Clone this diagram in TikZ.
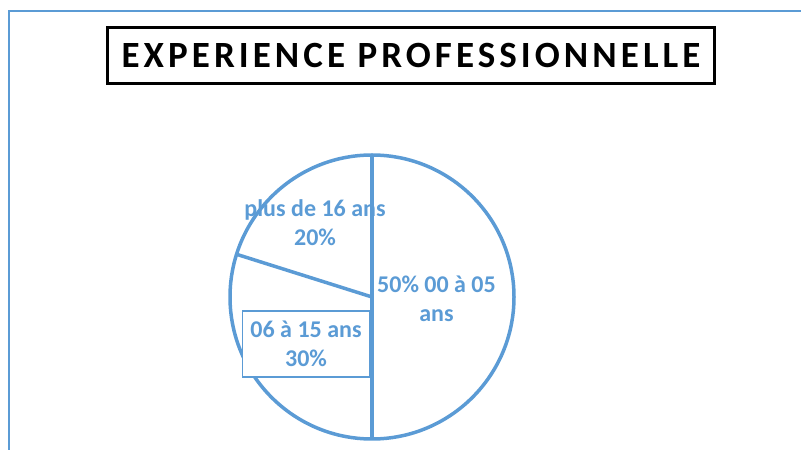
\documentclass[tikz,border=0pt]{standalone}
\usepackage{fontspec}
\setmainfont{Carlito}
\newfontfamily\titlefont[LetterSpace=11]{Carlito}
\usepackage{tikz}
\definecolor{pieblue}{HTML}{5B9BD5}
\tikzset{
  pielabel/.style={text=pieblue, font=\fontsize{24}{29}\selectfont\bfseries, align=center, inner sep=0pt},
  pieline/.style={pieblue, line width=3.5}
}

\begin{document}
\begin{tikzpicture}[x=1pt, y=1pt]
       \useasboundingbox (0,0) rectangle (801,450);
       % frame
       \draw [pieblue, line width=2] (801,439) -- (9,439) -- (9,0);
       % title
       \node [draw, line width=2.2, minimum width=607, minimum height=56, inner sep=0pt,
              font=\titlefont\fontsize{37}{44}\selectfont\bfseries] (title) at (411,394.5)
              {EXPERIENCE PROFESSIONNELLE};
       % pie
       \coordinate (O) at (372,153);
       \draw [pieline] (O) circle[radius=142];
       \node [draw=pieblue, line width=1.8, fill=white, minimum width=127, minimum height=66,
              inner sep=0pt] (boxB) at (306,105.8) {};
       \draw [pieline] (O) ++(90:142) coordinate (top) -- ++(0,-284) coordinate (bot);
       \draw [pieline] (O) -- ++(162.5:142) coordinate (cut);
       \node [pielabel] (labA) at (436.5,151) {50\% 00 à 05\\ans};
       \node [pielabel] (labC) at (315,227.5) {plus de 16 ans\\20\%};
       \node [pielabel] (labB) at (boxB) {06 à 15 ans\\30\%};
     \end{tikzpicture}
\end{document}
